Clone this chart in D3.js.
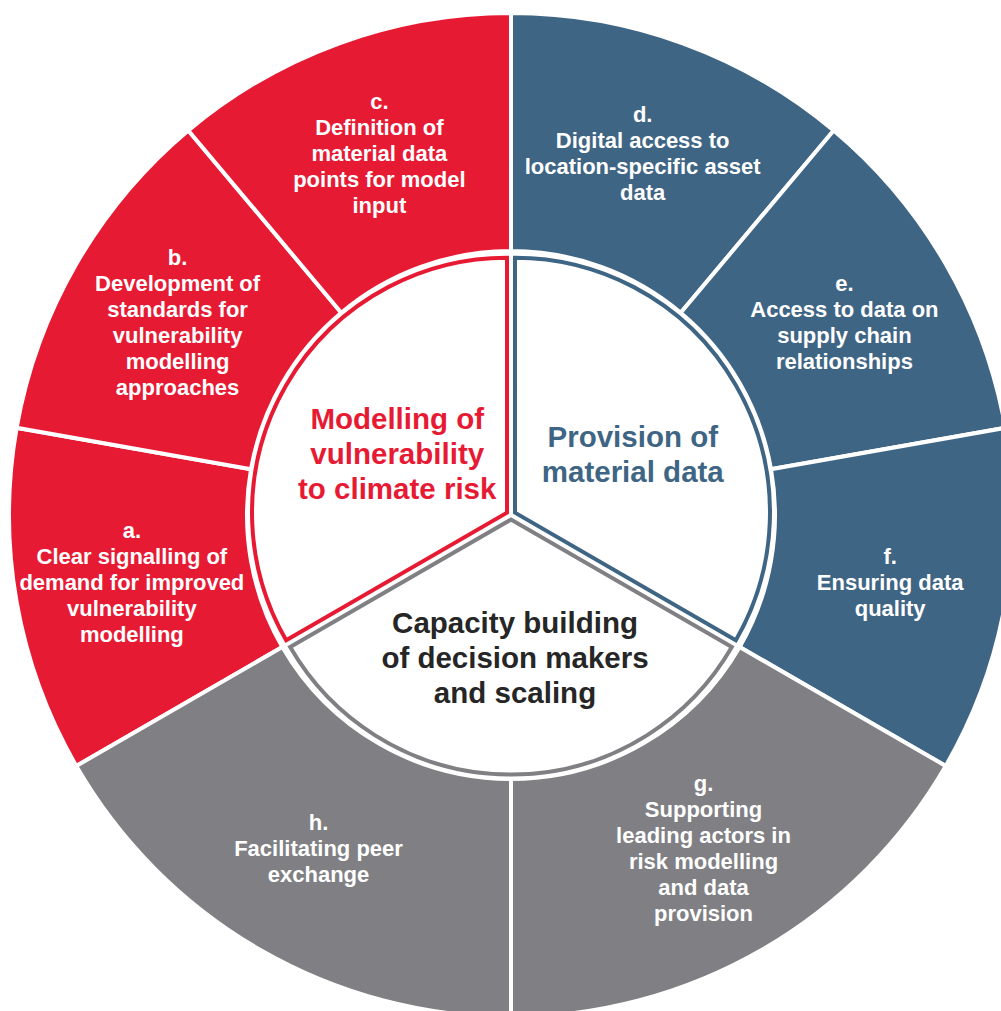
<!DOCTYPE html>
<html>
  <head>
    <meta charset="utf-8" />
    <title>Climate risk modelling wheel</title>
    <script src="https://d3js.org/d3.v7.min.js"></script>
    <style>
      body { margin: 0; background: #fff; }
    </style>
  </head>
  <body>
    <svg id="wheel" width="1001" height="1011"></svg>

    <script>
      // outer ring: one entry per action, in clockwise order starting at a.
      var outerLetters = ["a.", "b.", "c.", "d.", "e.", "f.", "g.", "h."];
      var outerLabels = [
        ["Clear signalling of", "demand for improved", "vulnerability", "modelling"],
        ["Development of", "standards for", "vulnerability", "modelling", "approaches"],
        ["Definition of", "material data", "points for model", "input"],
        ["Digital access to", "location-specific asset", "data"],
        ["Access to data on", "supply chain", "relationships"],
        ["Ensuring data", "quality"],
        ["Supporting", "leading actors in", "risk modelling", "and data", "provision"],
        ["Facilitating peer", "exchange"]
      ];
      var outerWeights = [1, 1, 1, 1, 1, 1, 1.5, 1.5];
      var outerTheme = [0, 0, 0, 1, 1, 1, 2, 2];

      // inner circle: the three themes
      var themeLabels = [
        ["Modelling of", "vulnerability", "to climate risk"],
        ["Provision of", "material data"],
        ["Capacity building", "of decision makers", "and scaling"]
      ];
      var themeWeights = [1, 1, 1];
      var themeColors = ["#E71A33", "#3F6585", "#808084"];
      var themeTextColors = ["#E71A33", "#3F6585", "#262626"];

      var cx = 511;
      var cy = 515;
      var startAngle = (-120 * Math.PI) / 180;

      var svg = d3.select("#wheel");
      var g = svg.append("g").attr("transform", "translate(" + cx + "," + cy + ")");

      var pie = d3
        .pie()
        .sort(null)
        .value(function (d) {
          return d;
        })
        .startAngle(startAngle)
        .endAngle(startAngle + 2 * Math.PI);

      var outerArc = d3.arc().innerRadius(264).outerRadius(502);
      var innerArc = d3.arc().innerRadius(0).outerRadius(255);

      var outerSlices = pie(outerWeights);
      var innerSlices = pie(themeWeights);

      function midAngle(d) {
        return (d.startAngle + d.endAngle) / 2;
      }

      // outer segments
      g.selectAll("path.outer")
        .data(outerSlices)
        .enter()
        .append("path")
        .attr("class", "outer")
        .attr("d", outerArc)
        .style("fill", function (d, i) {
          return themeColors[outerTheme[i]];
        })
        .style("stroke", "#fff")
        .style("stroke-width", 4);

      // inner sectors, white with coloured outline, pulled apart a little
      var explode = 4.6;
      g.selectAll("path.inner")
        .data(innerSlices)
        .enter()
        .append("path")
        .attr("class", "inner")
        .attr("d", innerArc)
        .attr("transform", function (d) {
          var a = midAngle(d);
          return "translate(" + explode * Math.sin(a) + "," + -explode * Math.cos(a) + ")";
        })
        .style("fill", "#fff")
        .style("stroke", function (d, i) {
          return themeColors[i];
        })
        .style("stroke-width", 4)
        .style("stroke-linejoin", "miter");

      var lineHeight = 26;
      var labelRadius = 385;

      // outer labels
      outerSlices.forEach(function (slice, i) {
        var a = midAngle(slice);
        var x = labelRadius * Math.sin(a);
        var y = -labelRadius * Math.cos(a);
        var lines = [outerLetters[i]].concat(outerLabels[i]);
        var top = y - ((lines.length - 1) * lineHeight) / 2;

        g.append("text")
          .attr("text-anchor", "middle")
          .style("font-family", "'Liberation Sans', Arial, sans-serif")
          .style("font-weight", "bold")
          .style("font-size", "22px")
          .style("fill", "#fff")
          .selectAll("tspan")
          .data(lines)
          .enter()
          .append("tspan")
          .attr("x", x)
          .attr("y", function (d, j) {
            return top + j * lineHeight;
          })
          .attr("dy", "0.35em")
          .text(function (d) {
            return d;
          });
      });

      // theme labels in the middle
      var themeLineHeight = 35;
      var themeRadius = 136;
      var themeShiftX = 4;
      var themeDrop = 7;

      innerSlices.forEach(function (slice, i) {
        var a = midAngle(slice);
        var x = themeRadius * Math.sin(a) + themeShiftX;
        var y = -themeRadius * Math.cos(a) + themeDrop;
        var lines = themeLabels[i];
        var top = y - ((lines.length - 1) * themeLineHeight) / 2;

        g.append("text")
          .attr("text-anchor", "middle")
          .style("font-family", "'Liberation Sans', Arial, sans-serif")
          .style("font-weight", "bold")
          .style("font-size", "29.5px")
          .style("fill", themeTextColors[i])
          .selectAll("tspan")
          .data(lines)
          .enter()
          .append("tspan")
          .attr("x", x)
          .attr("y", function (d, j) {
            return top + j * themeLineHeight;
          })
          .attr("dy", "0.35em")
          .text(function (d) {
            return d;
          });
      });
    </script>
  </body>
</html>
